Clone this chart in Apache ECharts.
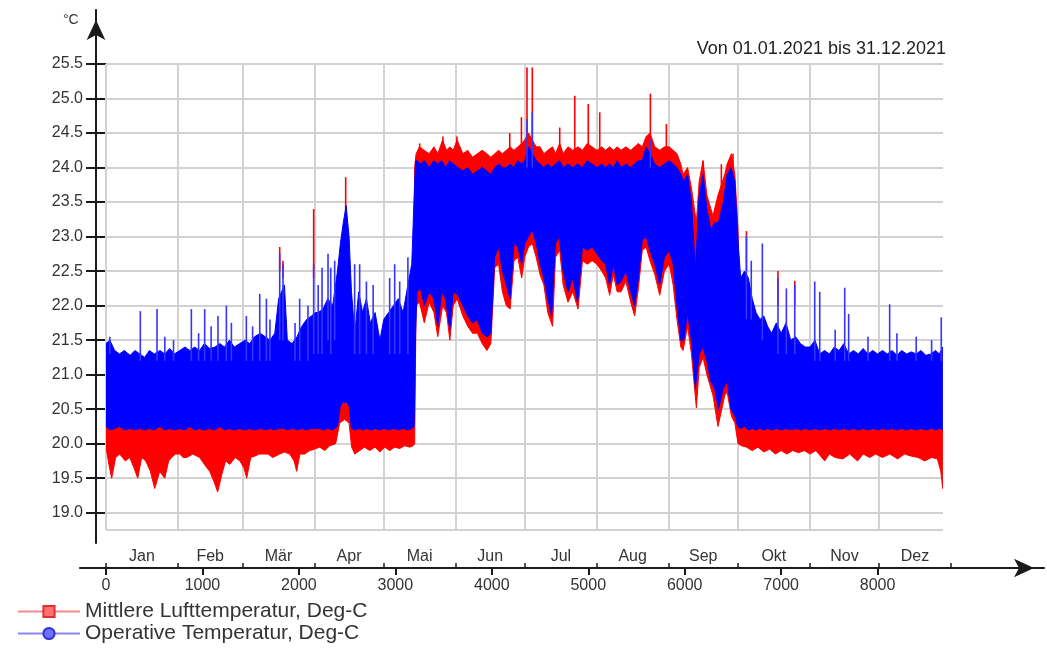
<!DOCTYPE html>
<html>
<head>
<meta charset="utf-8">
<script src="https://cdn.jsdelivr.net/npm/echarts@6/dist/echarts.min.js"></script>
<style>
html,body{margin:0;padding:0;background:#fff;}
#chart{width:1047px;height:656px;}
</style>
</head>
<body>
<div id="chart"></div>
<script>
// ---------- data ----------
const seriesNames = ['Mittlere Lufttemperatur, Deg-C', 'Operative Temperatur, Deg-C'];
const periodText = 'Von 01.01.2021 bis 31.12.2021';
const unitText = '°C';
const monthNames = ['Jan','Feb','Mär','Apr','Mai','Jun','Jul','Aug','Sep','Okt','Nov','Dez'];
const monthBounds = [0,744,1416,2160,2880,3624,4344,5088,5832,6552,7296,8016,8760];
const hourTicks = [0,1000,2000,3000,4000,5000,6000,7000,8000];
const tempTicks = [19.0,19.5,20.0,20.5,21.0,21.5,22.0,22.5,23.0,23.5,24.0,24.5,25.0,25.5];

// Operative Temperatur: envelope [hour, low, high]
const operativeBand = [
[0,20.25,21.45],[40,20.2,21.5],[90,20.22,21.35],[140,20.25,21.3],[190,20.2,21.35],[250,20.22,21.28],[300,20.2,21.35],[350,20.22,21.3],[400,20.2,21.25],[450,20.22,21.35],[500,20.2,21.3],[560,20.25,21.35],[610,20.2,21.3],[660,20.22,21.38],[710,20.2,21.3],[764,20.22,21.35],
[820,20.2,21.4],[870,20.25,21.35],[920,20.2,21.4],[970,20.22,21.35],[1020,20.2,21.45],[1075,20.22,21.38],[1130,20.2,21.4],[1180,20.25,21.45],[1230,20.2,21.4],[1280,20.22,21.5],[1330,20.2,21.4],[1386,20.22,21.45],
[1440,20.2,21.5],[1490,20.22,21.45],[1540,20.2,21.55],[1600,20.22,21.6],[1650,20.2,21.55],[1700,20.22,21.5],[1750,20.2,21.6],[1790,20.22,22.1],[1850,20.22,22.3],[1880,20.2,21.5],[1930,20.22,21.45],[1980,20.2,21.55],[2030,20.22,21.7],[2080,20.2,21.8],[2130,20.22,21.85],
[2170,20.22,21.9],[2200,20.22,21.9],[2250,20.2,21.95],[2300,20.22,22.1],[2350,20.2,22.0],[2400,20.25,22.5],[2430,20.55,22.9],[2460,20.6,23.2],[2490,20.6,23.45],[2520,20.55,23.0],[2545,20.22,22.2],[2580,20.2,21.6],[2620,20.22,22.2],[2660,20.2,21.9],[2700,20.22,22.1],[2740,20.2,21.75],[2790,20.22,21.9],[2840,20.2,21.5],[2880,20.22,21.8],
[2930,20.2,21.9],[2980,20.22,22.0],[3030,20.2,22.1],[3080,20.22,21.9],[3130,20.2,22.3],[3170,20.22,22.6],[3195,20.25,23.6],[3210,21.6,24.1],[3225,22.2,24.1],[3260,22.25,24.05],[3300,22.0,24.1],[3350,22.2,24.0],[3400,22.1,24.1],[3440,21.7,24.05],[3480,22.2,24.1],[3520,22.1,24.0],[3565,21.65,24.1],[3600,22.2,24.05],
[3650,22.15,24.0],[3700,22.0,23.95],[3750,21.85,24.0],[3800,21.75,23.9],[3850,21.8,23.95],[3900,21.6,24.0],[3950,21.55,23.95],[3990,21.6,23.9],[4030,22.7,24.0],[4070,22.85,24.05],[4110,22.5,24.0],[4150,22.3,24.0],[4190,22.1,24.05],[4230,22.9,24.0],[4270,22.85,24.1],[4310,22.6,24.05],[4341,22.9,24.1],
[4380,23.0,24.3],[4420,23.1,24.2],[4460,22.9,24.1],[4500,22.6,24.05],[4540,22.4,24.0],[4580,22.1,24.05],[4620,21.85,24.0],[4660,22.9,24.05],[4700,23.0,24.1],[4740,22.5,24.0],[4790,22.2,24.05],[4840,22.4,24.0],[4890,22.05,24.05],[4940,22.85,24.0],[4990,22.8,24.1],[5040,22.85,24.05],[5090,22.75,24.0],
[5140,22.65,24.05],[5180,22.6,24.0],[5220,22.3,24.05],[5260,22.6,24.0],[5300,22.3,24.1],[5340,22.35,24.0],[5390,22.5,24.05],[5440,22.2,24.0],[5480,22.0,24.05],[5520,22.4,24.1],[5560,22.95,24.1],[5600,23.0,24.3],[5640,22.8,24.2],[5690,22.6,24.05],[5740,22.3,24.0],[5790,22.7,24.05],
[5840,22.8,24.1],[5880,22.6,24.05],[5920,22.0,24.0],[5960,21.5,23.9],[5990,21.5,23.8],[6030,21.9,23.9],[6070,21.5,23.5],[6110,20.8,22.5],[6150,21.3,23.6],[6190,21.4,23.9],[6230,21.2,23.4],[6270,20.9,23.1],[6310,20.8,23.2],[6350,20.5,23.2],[6400,20.8,23.5],[6440,20.9,23.9],[6480,20.5,24.0],[6520,20.4,23.8],[6550,20.25,23.0],
[6580,20.22,22.4],[6620,20.25,22.5],[6660,20.2,22.4],[6700,20.22,22.1],[6740,20.2,21.9],[6780,20.22,21.8],[6820,20.2,21.85],[6860,20.22,21.7],[6900,20.2,21.6],[6950,20.22,21.75],[7000,20.2,21.6],[7050,20.22,21.75],[7100,20.2,21.5],[7150,20.22,21.55],[7200,20.2,21.45],[7250,20.22,21.4],
[7300,20.2,21.4],[7350,20.22,21.5],[7400,20.2,21.3],[7450,20.22,21.35],[7500,20.2,21.3],[7550,20.22,21.4],[7600,20.2,21.35],[7650,20.22,21.45],[7700,20.2,21.3],[7750,20.22,21.35],[7800,20.2,21.3],[7850,20.22,21.38],[7900,20.2,21.3],[7950,20.22,21.35],[8000,20.2,21.3],
[8050,20.22,21.35],[8100,20.2,21.3],[8150,20.22,21.35],[8200,20.2,21.28],[8250,20.22,21.35],[8300,20.2,21.3],[8350,20.22,21.33],[8400,20.2,21.3],[8450,20.22,21.35],[8500,20.2,21.28],[8550,20.22,21.3],[8600,20.2,21.35],[8640,20.22,21.3],[8675,20.2,21.4]
];
// Operative Temperatur: single-hour peaks [hour, from, to]
const operativeSpikes = [
[40,21.3,21.55],[356,21.2,21.92],[529,21.2,21.95],[610,21.2,21.55],[700,21.2,21.5],[885,21.2,21.95],[960,21.2,21.6],[1023,21.2,21.95],[1090,21.2,21.7],[1161,21.2,21.85],[1248,21.2,22.0],[1300,21.2,21.75],[1455,21.2,21.85],[1520,21.2,21.7],[1594,21.2,22.17],[1663,21.2,22.1],[1700,21.2,21.8],[1801,21.5,22.75],[1835,21.5,22.6],[1960,21.2,21.75],[2008,21.2,22.1],[2094,21.2,22.0],[2153,21.3,22.6],
[2200,21.3,22.3],[2240,21.3,22.55],[2302,21.5,22.75],[2330,21.3,22.55],[2371,21.5,22.65],[2578,21.3,22.6],[2630,21.3,22.6],[2700,21.3,22.35],[2770,21.3,22.3],[2941,21.3,22.4],[2993,21.3,22.6],[3045,21.3,22.35],[3130,21.3,22.7],
[4365,24.0,24.7],[4420,24.0,24.8],[5644,24.0,24.4],
[6640,21.8,23.0],[6690,21.8,22.65],[6805,21.5,22.9],[6967,21.3,22.4],[7054,21.3,22.25],[7141,21.3,22.3],[7348,21.2,22.35],[7400,21.2,22.2],[7560,21.2,21.65],[7659,21.2,22.26],[7700,21.2,21.88],[7900,21.2,21.55],[8125,21.2,22.02],[8200,21.2,21.6],[8400,21.2,21.55],[8560,21.2,21.5],[8660,21.2,21.83]
];
// Mittlere Lufttemperatur: envelope [hour, low, high]
const luftBand = [
[0,19.95,20.25],[30,19.7,20.25],[59,19.5,20.25],[100,19.8,20.25],[142,19.85,20.25],[200,19.75,20.25],[246,19.8,20.25],[290,19.65,20.25],[329,19.5,20.25],[370,19.8,20.25],[412,19.75,20.25],[460,19.6,20.25],[505,19.35,20.25],[557,19.6,20.25],[609,19.5,20.25],[650,19.75,20.25],[681,19.8,20.25],[720,19.85,20.25],[764,19.85,20.25],
[800,19.8,20.25],[837,19.8,20.25],[900,19.85,20.25],[971,19.8,20.25],[1020,19.7,20.25],[1075,19.6,20.25],[1120,19.45,20.25],[1158,19.3,20.25],[1200,19.55,20.25],[1240,19.75,20.25],[1283,19.7,20.25],[1340,19.8,20.25],[1388,19.75,20.25],
[1430,19.65,20.25],[1459,19.5,20.25],[1500,19.8,20.25],[1542,19.82,20.25],[1590,19.85,20.25],[1625,19.85,20.25],[1680,19.85,20.25],[1728,19.8,20.25],[1801,19.85,20.25],[1850,19.88,20.25],[1905,19.85,20.25],[1950,19.75,20.25],[1977,19.6,20.25],[2010,19.85,20.25],[2060,19.85,20.25],[2112,19.9,20.25],
[2160,19.92,20.25],[2215,19.95,20.25],[2270,19.9,20.25],[2319,19.97,20.25],[2381,20.0,20.3],[2423,20.3,20.55],[2475,20.35,20.6],[2520,20.3,20.55],[2547,19.95,20.25],[2580,19.85,20.25],[2630,19.9,20.25],[2680,19.95,20.25],[2734,19.9,20.25],[2790,19.95,20.25],[2838,19.88,20.25],
[2890,19.95,20.25],[2941,19.9,20.25],[2993,19.95,20.25],[3045,19.93,20.25],[3097,19.97,20.25],[3149,19.95,20.25],[3185,19.97,20.3],[3200,20.0,24.0],[3215,22.0,24.2],[3250,22.05,24.3],[3300,21.75,24.25],[3350,22.05,24.2],[3400,21.9,24.3],[3440,21.55,24.2],[3490,22.0,24.4],[3530,21.9,24.25],[3565,21.5,24.3],[3600,22.0,24.25],
[3640,22.1,24.4],[3700,21.85,24.2],[3750,21.7,24.25],[3800,21.6,24.15],[3850,21.6,24.2],[3900,21.45,24.25],[3950,21.35,24.2],[3990,21.45,24.15],[4030,22.55,24.2],[4070,22.6,24.25],[4110,22.2,24.2],[4150,22.0,24.25],[4190,21.95,24.3],[4230,22.65,24.25],[4270,22.7,24.3],[4310,22.4,24.35],[4341,22.7,24.4],
[4380,22.85,24.5],[4420,22.9,24.4],[4460,22.7,24.3],[4500,22.45,24.3],[4540,22.3,24.2],[4580,21.9,24.25],[4630,21.7,24.3],[4660,22.7,24.2],[4704,22.8,24.35],[4740,22.3,24.2],[4790,22.05,24.3],[4840,22.2,24.25],[4894,21.95,24.3],[4940,22.65,24.25],[4990,22.6,24.35],[5040,22.65,24.3],[5090,22.6,24.25],
[5140,22.5,24.3],[5180,22.4,24.25],[5222,22.15,24.3],[5260,22.45,24.25],[5300,22.2,24.3],[5340,22.2,24.25],[5390,22.35,24.3],[5440,22.05,24.25],[5481,21.85,24.3],[5520,22.25,24.35],[5560,22.8,24.3],[5600,22.85,24.45],[5640,22.65,24.5],[5690,22.45,24.3],[5741,22.15,24.25],[5790,22.5,24.3],
[5840,22.6,24.3],[5880,22.3,24.25],[5920,21.8,24.2],[5960,21.4,24.05],[5983,21.35,23.9],[6030,21.7,24.0],[6070,21.3,23.7],[6121,20.52,23.2],[6150,21.1,23.8],[6190,21.25,24.1],[6230,21.0,23.6],[6293,20.7,23.3],[6345,20.25,23.6],[6415,20.7,23.9],[6440,20.75,24.05],[6484,20.4,24.2],[6520,20.3,23.9],[6553,20.0,23.1],
[6590,19.97,20.5],[6640,19.95,20.3],[6700,19.9,20.25],[6760,19.95,20.25],[6820,19.88,20.25],[6880,19.92,20.25],[6940,19.85,20.25],[7000,19.9,20.25],[7060,19.85,20.25],[7120,19.9,20.25],[7180,19.87,20.25],[7240,19.9,20.25],
[7300,19.85,20.25],[7360,19.9,20.25],[7452,19.75,20.25],[7500,19.85,20.25],[7560,19.8,20.25],[7640,19.78,20.25],[7711,19.85,20.25],[7792,19.75,20.25],[7850,19.85,20.25],[7918,19.8,20.25],[7980,19.85,20.25],
[8050,19.8,20.25],[8126,19.85,20.25],[8207,19.78,20.25],[8280,19.85,20.25],[8350,19.82,20.25],[8420,19.8,20.25],[8488,19.75,20.25],[8560,19.8,20.25],[8620,19.78,20.25],[8655,19.6,20.25],[8675,19.35,20.2]
];
// Mittlere Lufttemperatur: single-hour peaks [hour, from, to]
const luftSpikes = [
[1801,22.5,22.85],[1835,22.4,22.65],[2153,22.4,23.4],[2485,23.3,23.86],
[3252,24.0,24.35],[3493,24.0,24.45],[3638,24.0,24.45],[4186,24.0,24.5],[4307,24.0,24.73],[4365,24.2,25.45],[4420,24.2,25.45],[4704,24.0,24.58],[4860,24.0,25.04],[5000,24.0,24.92],[5119,24.0,24.8],[5644,24.0,25.07],[5810,24.0,24.63],
[6188,23.5,24.1],[6380,23.5,24.05],[6501,23.5,24.2],[6640,22.5,23.08],[6967,22.0,22.5],[7141,22.0,22.36]
];

// ---------- layout ----------
const PLOT = {left:106, top:64, width:837, height:466};
const Y_MIN = 18.75, Y_MAX = 25.5, X_MAX = 8678;
const pxPerDeg = PLOT.height / (Y_MAX - Y_MIN);
const pxPerHour = PLOT.width / X_MAX;
const YAX = {left:96, top:10, bottom:543};
const XAX = {left:80, right:1044, y:568};
const yAxMin = Y_MAX - (YAX.bottom - PLOT.top) / pxPerDeg;
const yAxMax = Y_MAX + (PLOT.top - YAX.top) / pxPerDeg;
const xAxMin = -(PLOT.left - XAX.left) / pxPerHour;
const xAxMax = xAxMin + (XAX.right - XAX.left) / pxPerHour;
const monthMids = monthNames.map((m, i) => (monthBounds[i] + monthBounds[i + 1]) / 2);

const FONT = 'Liberation Sans, Arial, sans-serif';
const RED = '#ff0000', BLUE = '#0000ff';

// Band between low and high envelope, drawn as one polygon through the axis scales
function bandSeries(band, color) {
  return {
    type:'custom', xAxisIndex:0, yAxisIndex:0, data:band, encode:{x:0, y:[1, 2]},
    clip:true, silent:true, z:3, animation:false,
    renderItem:(params, api) => {
      if (params.dataIndex !== 0) return null;
      const upper = band.map(d => api.coord([d[0], d[2]]));
      const lower = band.map(d => api.coord([d[0], d[1]])).reverse();
      return {type:'polygon', shape:{points:upper.concat(lower)},
              style:{fill:color, stroke:color, lineWidth:1}};
    }
  };
}
function spikeSeries(spikes, color) {
  return {
    type:'custom', xAxisIndex:0, yAxisIndex:0, data:spikes, encode:{x:0, y:[1, 2]},
    clip:true, silent:true, z:3, animation:false,
    renderItem:(params, api) => {
      const p1 = api.coord([api.value(0), api.value(1)]);
      const p2 = api.coord([api.value(0), api.value(2)]);
      return {type:'line', shape:{x1:p1[0], y1:p1[1], x2:p2[0], y2:p2[1]}, style:{stroke:color, lineWidth:1.6}};
    }
  };
}

const gridLineData = tempTicks.map(v => ({yAxis:v}))
  .concat([{yAxis:Y_MIN}])
  .concat(monthBounds.slice(1, 12).map(h => ({xAxis:h})))
  .concat([{xAxis:0}]);

const chart = echarts.init(document.getElementById('chart'), null, {renderer:'canvas'});
chart.setOption({
  animation:false,
  textStyle:{fontFamily:FONT},
  title:{text:periodText, right:96, top:35,
         textStyle:{fontSize:18, fontWeight:'normal', color:'#222', fontFamily:FONT}},
  graphic:[{type:'text', left:63, top:13, style:{text:unitText, fill:'#333', font:'14px ' + FONT}}],
  legend:{orient:'vertical', left:12, top:596, itemWidth:62, itemHeight:14, itemGap:1,
          selectedMode:false, data:seriesNames,
          textStyle:{fontSize:21, color:'#333', fontFamily:FONT}},
  grid:[
    {left:PLOT.left, top:PLOT.top, width:PLOT.width, height:PLOT.height},
    {left:YAX.left, top:YAX.top, width:PLOT.left - YAX.left, height:YAX.bottom - YAX.top},
    {left:XAX.left, top:XAX.y - 8, width:XAX.right - XAX.left, height:8},
    {left:XAX.left, top:XAX.y - 8, width:XAX.right - XAX.left, height:8}
  ],
  xAxis:[
    {gridIndex:0, type:'value', min:0, max:X_MAX, show:false},
    {gridIndex:1, type:'value', min:0, max:1, show:false},
    {gridIndex:2, type:'value', min:xAxMin, max:xAxMax, position:'bottom',
     axisLine:{show:true, lineStyle:{color:'#1a1a1a', width:2}, symbol:['none','arrow'], symbolSize:[14,20], symbolOffset:[0,-10]},
     axisTick:{show:true, customValues:hourTicks, length:7, lineStyle:{color:'#1a1a1a', width:2}},
     axisLabel:{show:true, customValues:hourTicks, fontSize:16, color:'#333', margin:10, fontFamily:FONT,
                formatter:(v) => String(Math.round(v))},
     splitLine:{show:false}},
    {gridIndex:3, type:'value', min:xAxMin, max:xAxMax, position:'bottom',
     axisLine:{show:false},
     axisTick:{show:true, inside:true, customValues:monthBounds, length:5, lineStyle:{color:'#1a1a1a', width:1.5}},
     axisLabel:{show:true, inside:true, customValues:monthMids, margin:3, fontSize:16, color:'#333', fontFamily:FONT,
                formatter:(v) => monthNames[monthMids.indexOf(v)] || ''},
     splitLine:{show:false}}
  ],
  yAxis:[
    {gridIndex:0, type:'value', min:Y_MIN, max:Y_MAX, show:false},
    {gridIndex:1, type:'value', min:yAxMin, max:yAxMax, position:'left',
     axisLine:{show:true, lineStyle:{color:'#1a1a1a', width:2}, symbol:['none','arrow'], symbolSize:[14,20], symbolOffset:[0,-10]},
     axisTick:{show:true, customValues:tempTicks, length:10, lineStyle:{color:'#1a1a1a', width:2}},
     axisLabel:{show:true, customValues:tempTicks, margin:13, fontSize:16, color:'#333', fontFamily:FONT,
                formatter:(v) => v.toFixed(1)},
     splitLine:{show:false}},
    {gridIndex:1, type:'value', min:yAxMin, max:yAxMax, position:'right',
     axisLine:{show:false},
     axisTick:{show:true, inside:true, customValues:tempTicks, length:10, lineStyle:{color:'#1a1a1a', width:2}},
     axisLabel:{show:false}, splitLine:{show:false}},
    {gridIndex:2, type:'value', min:0, max:1, show:false},
    {gridIndex:3, type:'value', min:0, max:1, show:false}
  ],
  series:[
    {type:'line', xAxisIndex:0, yAxisIndex:0, data:[], silent:true, z:1,
     markLine:{silent:true, symbol:['none','none'], z:1, animation:false, label:{show:false},
               lineStyle:{color:'#d2d2d2', width:2, type:'solid'}, emphasis:{disabled:true}, data:gridLineData}},
    bandSeries(luftBand, RED),
    spikeSeries(luftSpikes, RED),
    bandSeries(operativeBand, BLUE),
    spikeSeries(operativeSpikes, '#3535ff'),
    {name:seriesNames[0], type:'line', xAxisIndex:0, yAxisIndex:0, data:[], symbol:'rect', symbolSize:9,
     itemStyle:{color:'#ff7070', borderColor:'#e03030', borderWidth:1}, lineStyle:{color:'#f38a8a', width:2}},
    {name:seriesNames[1], type:'line', xAxisIndex:0, yAxisIndex:0, data:[], symbol:'circle', symbolSize:9,
     itemStyle:{color:'#7070ff', borderColor:'#3030e0', borderWidth:1}, lineStyle:{color:'#8a8af3', width:2}}
  ]
});
</script>
</body>
</html>
